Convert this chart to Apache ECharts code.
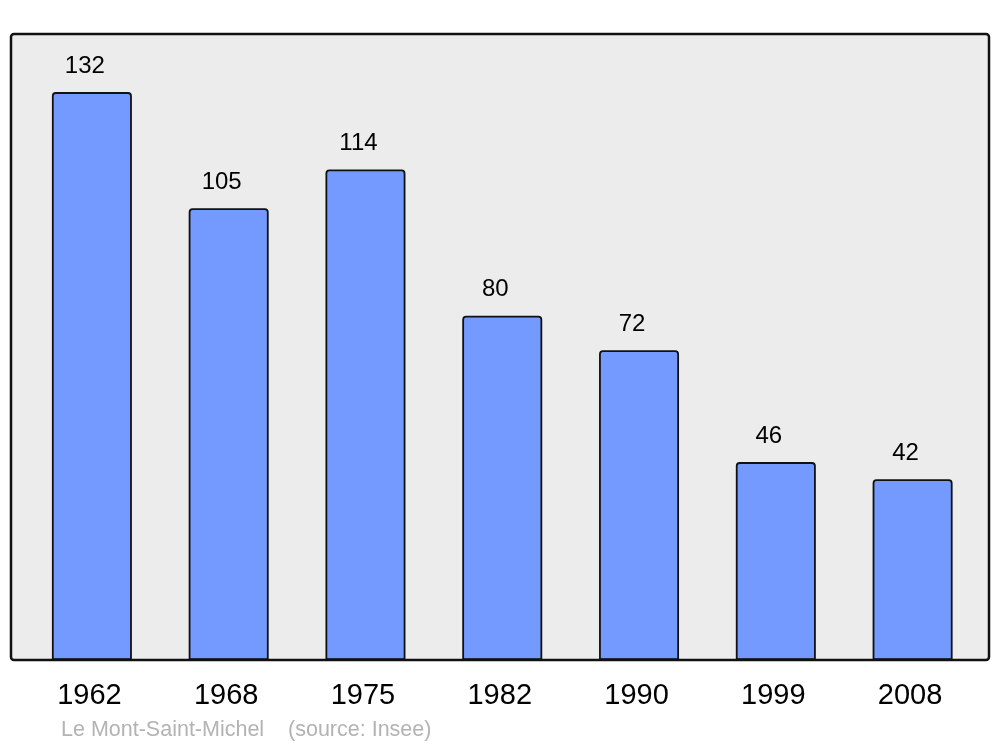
<!DOCTYPE html>
<html><head><meta charset="utf-8">
<script src="https://cdn.jsdelivr.net/npm/echarts@6/dist/echarts.min.js"></script>
<style>html,body{margin:0;padding:0;background:#fff}#c{width:1000px;height:747px}</style>
</head><body><div id="c"></div>
<script>
const years = ['1962','1968','1975','1982','1990','1999','2008'];
const population = [132,105,114,80,72,46,42];
const caption = 'Le Mont-Saint-Michel    (source: Insee)';

const chart = echarts.init(document.getElementById('c'), null, {renderer:'canvas'});
chart.setOption({
  backgroundColor:'#ffffff',
  animation:false,
  graphic:[
    {type:'rect', z:-10, shape:{x:11,y:34,width:978,height:626,r:3}, style:{fill:'#ececec',stroke:null}},
    {type:'rect', z:100, shape:{x:11,y:34,width:978,height:626,r:3}, style:{fill:null,stroke:'#111111',lineWidth:2.5}},
    {type:'text', left:61, top:719, style:{text:caption, fill:'#b3b3b3', font:'21.5px "Liberation Sans", Arial, sans-serif'}}
  ],
  grid:{left:23.5, right:19, top:34, bottom:87, containLabel:false},
  xAxis:{type:'category', data:years,
    axisLine:{show:false}, axisTick:{show:false},
    axisLabel:{color:'#000', fontSize:29, fontFamily:'Liberation Sans, Arial, sans-serif', margin:21,
      padding:[0,5,0,0]}},
  yAxis:{type:'value', min:0, max:145.5, show:false, splitLine:{show:false}},
  series:[{type:'bar', data:population, barWidth:80,
    itemStyle:{color:'#7499ff', borderColor:'#111111', borderWidth:1.8, borderRadius:[3,3,0,0]},
    label:{show:true, position:'top', distance:14, offset:[-7,0], color:'#000', fontSize:24, fontFamily:'Liberation Sans, Arial, sans-serif'}}]
});
</script></body></html>
